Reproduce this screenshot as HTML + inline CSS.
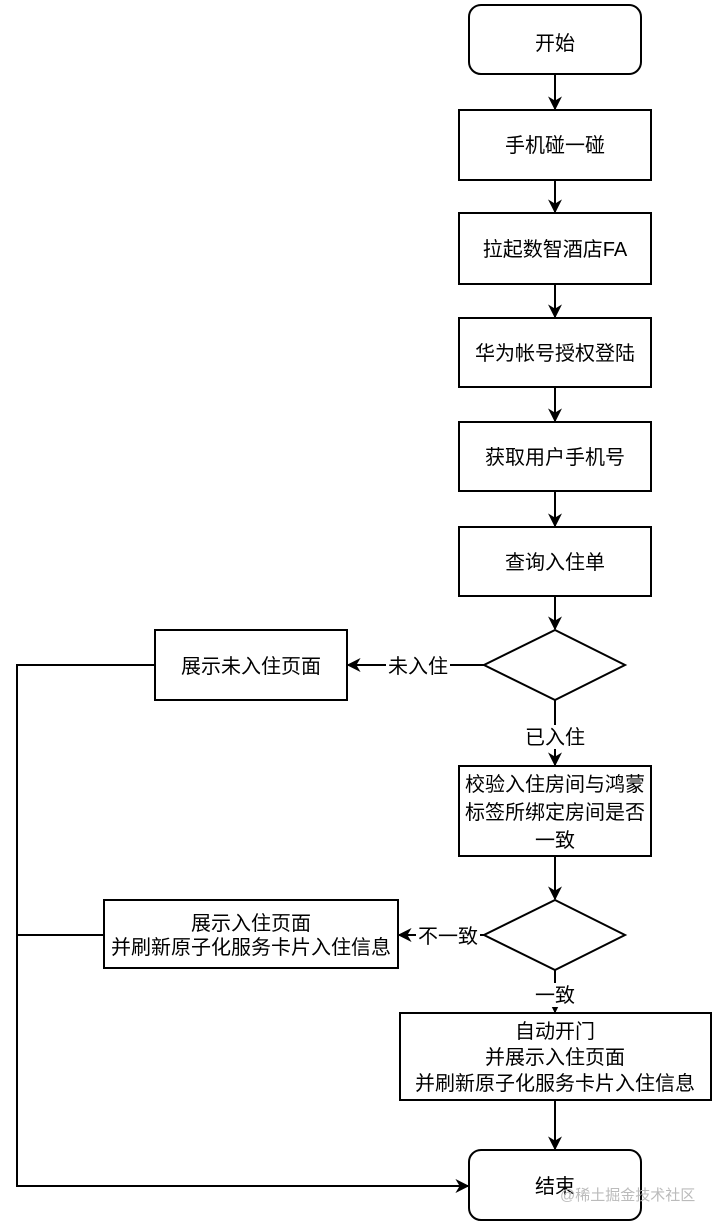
<!DOCTYPE html>
<html><head><meta charset="utf-8"><style>
html,body{margin:0;padding:0;background:#fff;}
svg{display:block;}
text{font-family:"Liberation Sans","Noto Sans CJK SC",sans-serif;font-size:20px;fill:#000;}
</style></head><body>
<svg width="717" height="1227" viewBox="0 0 717 1227" xmlns="http://www.w3.org/2000/svg">
<defs><marker id="a" viewBox="0 0 10 10" refX="9" refY="5" markerWidth="14" markerHeight="14" orient="auto" markerUnits="userSpaceOnUse"><path d="M0,0 L10,5 L0,10 L3,5z" fill="#000"/></marker></defs>
<g stroke="#000" stroke-width="2" fill="#fff">
<rect x="469" y="5" width="172" height="69" rx="12"/>
<rect x="459" y="110" width="192" height="70"/>
<rect x="459" y="213" width="192" height="71"/>
<rect x="459" y="318" width="192" height="69"/>
<rect x="459" y="422" width="192" height="69"/>
<rect x="459" y="527" width="192" height="69"/>
<polygon points="555,630 625,665 555,700 484,665"/>
<rect x="155" y="630" width="192" height="70"/>
<rect x="459" y="766" width="192" height="90"/>
<polygon points="555,900 625,935 555,970 484,935"/>
<rect x="104" y="900" width="294" height="68"/>
<rect x="400" y="1013" width="311" height="87"/>
<rect x="469" y="1150" width="172" height="70" rx="12"/>
</g>
<g stroke="#000" stroke-width="2" fill="none">
<line x1="555" y1="74" x2="555" y2="109" marker-end="url(#a)"/>
<line x1="555" y1="180" x2="555" y2="212" marker-end="url(#a)"/>
<line x1="555" y1="284" x2="555" y2="317" marker-end="url(#a)"/>
<line x1="555" y1="387" x2="555" y2="421" marker-end="url(#a)"/>
<line x1="555" y1="491" x2="555" y2="526" marker-end="url(#a)"/>
<line x1="555" y1="596" x2="555" y2="629" marker-end="url(#a)"/>
<line x1="484" y1="665" x2="348" y2="665" marker-end="url(#a)"/>
<line x1="555" y1="700" x2="555" y2="765" marker-end="url(#a)"/>
<line x1="555" y1="856" x2="555" y2="899" marker-end="url(#a)"/>
<line x1="484" y1="935" x2="399" y2="935" marker-end="url(#a)"/>
<line x1="555" y1="970" x2="555" y2="1012" marker-end="url(#a)"/>
<line x1="555" y1="1100" x2="555" y2="1149" marker-end="url(#a)"/>
<polyline points="155,665 17,665 17,1186 468,1186" marker-end="url(#a)"/>
<line x1="104" y1="935" x2="17" y2="935"/>
</g>
<g fill="#fff"><rect x="386" y="654" width="64" height="24"/><rect x="524" y="725" width="62" height="24"/><rect x="416" y="924" width="64" height="24"/><rect x="534" y="983" width="42" height="24"/></g>
<g text-anchor="middle">
<text x="555" y="50">开始</text>
<text x="555" y="152">手机碰一碰</text>
<text x="555" y="256">拉起数智酒店FA</text>
<text x="555" y="360">华为帐号授权登陆</text>
<text x="555" y="464">获取用户手机号</text>
<text x="555" y="569">查询入住单</text>
<text x="251" y="673">展示未入住页面</text>
<text x="418" y="673">未入住</text>
<text x="555" y="744">已入住</text>
<text x="555" y="791">校验入住房间与鸿蒙</text>
<text x="555" y="819">标签所绑定房间是否</text>
<text x="555" y="847">一致</text>
<text x="251" y="930">展示入住页面</text>
<text x="251" y="954">并刷新原子化服务卡片入住信息</text>
<text x="448" y="943">不一致</text>
<text x="555" y="1002">一致</text>
<text x="555" y="1038">自动开门</text>
<text x="555" y="1064">并展示入住页面</text>
<text x="555" y="1090">并刷新原子化服务卡片入住信息</text>
<text x="555" y="1193">结束</text>
</g>
<text x="560" y="1200" style="font-size:15px;fill:#bbb">@稀土掘金技术社区</text>
</svg>
</body></html>
